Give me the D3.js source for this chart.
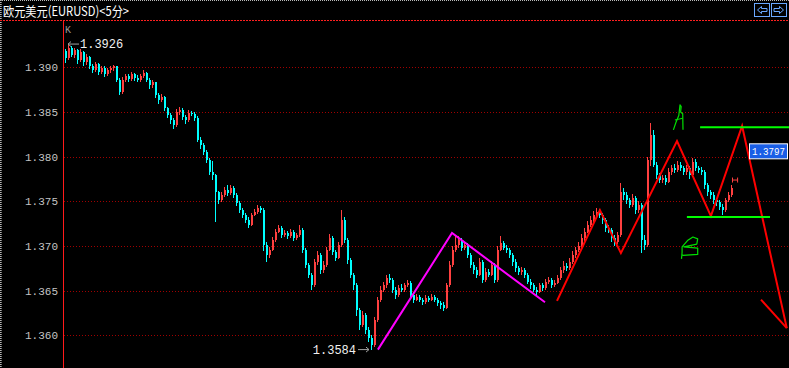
<!DOCTYPE html>
<html><head><meta charset="utf-8">
<script src="https://cdn.jsdelivr.net/npm/d3@7"></script>
<style>html,body{margin:0;padding:0;background:#000;overflow:hidden}</style>
</head><body>
<svg id="c" width="789" height="368"></svg>
<script>
// ---------- DATA (prices in pips above 1.3000, e.g. 926 = 1.3926) ----------
const title = "欧元美元(EURUSD)<5分>";
const yTicks = [1.360, 1.365, 1.370, 1.375, 1.380, 1.385, 1.390];
const firstOpen = 918;
const closes = [
910,922,914,919,908,917,906,912,901,897,
904,895,899,892,897,899,901,886,872,886,
890,887,892,888,886,890,894,886,880,883,
869,863,867,854,847,841,835,850,852,844,
841,849,848,843,819,813,805,796,783,779,
760,751,757,763,759,765,757,748,740,735,
729,724,735,738,743,740,701,690,696,707,
716,720,712,715,711,716,709,712,718,696,
679,668,656,682,690,673,679,696,709,693,
687,701,729,707,684,668,656,628,612,623,
606,597,589,617,640,651,656,664,662,651,
645,653,651,656,659,645,640,643,640,637,
642,640,643,640,636,634,631,656,679,696,
701,707,698,701,690,679,673,668,682,662,
671,668,679,662,696,703,698,696,690,682,
675,671,673,668,660,656,651,649,656,653,
660,662,656,659,664,673,678,675,682,690,
696,700,709,716,724,729,735,738,735,729,
720,718,709,704,712,760,757,751,746,754,
740,746,707,701,796,824,791,779,774,776,
772,783,787,785,791,787,783,787,779,794,
787,785,783,768,760,757,751,749,744,740,
751,757,765];
const highs = [
921,926,924,922,921,920,918,915,913,904,
906,905,902,901,899,902,903,902,888,889,
893,892,895,894,891,893,897,895,888,886,
884,871,870,868,856,849,843,853,856,854,
847,852,851,850,845,822,815,807,798,795,
781,762,760,766,768,768,767,759,750,743,
737,732,737,741,746,745,742,704,699,710,
719,724,722,718,717,719,718,715,723,720,
698,681,670,685,694,692,683,699,713,711,
696,705,740,732,709,686,670,659,631,627,
625,609,600,620,643,655,660,668,669,664,
654,656,657,659,662,661,647,646,645,642,
645,644,646,645,642,638,637,659,683,700,
712,711,709,705,703,692,682,676,686,684,
675,674,683,681,700,711,706,701,698,692,
685,678,676,675,670,663,658,654,659,658,
663,665,664,662,667,677,683,681,686,694,
699,704,713,720,728,733,739,743,741,737,
731,724,720,712,716,770,765,760,754,758,
756,750,748,712,800,838,830,794,782,780,
779,787,791,792,795,794,790,791,789,798,
797,790,788,785,770,763,760,754,752,747,
754,760,768];
const lows = [
905,908,911,910,904,906,902,903,898,894,
895,891,893,889,890,894,896,883,869,870,
884,884,885,885,883,884,888,883,876,877,
866,859,861,851,843,837,831,833,847,841,
837,839,845,840,816,809,802,793,779,774,
727,747,749,755,756,757,754,745,737,731,
726,720,722,733,736,737,694,682,687,694,
705,714,709,710,708,709,706,707,710,692,
675,664,651,654,679,669,670,677,694,690,
683,685,699,703,680,664,651,622,606,609,
601,592,584,587,615,637,648,653,658,647,
641,643,648,649,654,641,636,638,637,634,
635,637,638,637,633,630,627,629,654,676,
693,698,694,695,686,675,669,664,666,658,
660,665,666,658,660,694,695,692,686,678,
671,668,668,664,657,652,648,645,647,650,
651,657,653,654,657,662,670,672,673,680,
687,693,698,706,714,721,726,732,731,725,
716,714,705,700,702,710,752,747,742,744,
736,737,692,696,699,790,788,775,770,771,
768,770,780,782,783,784,779,780,775,777,
784,782,779,764,756,753,747,745,740,735,
738,749,755];
const highLabel = "1.3926", lowLabel = "1.3584", lastLabel = "1.3797";
const lastPrice = 797;
// annotations: [candle index, pips]
const magentaLine = [[104.3, 584], [129, 714.5], [160, 637]];
const redZigzag = [[164, 638.5], [178.3, 740.3], [185.3, 692], [204, 817.5], [215.3, 733.5], [225.7, 834.3], [240.6, 608]];
const redBarb = [[232, 640], [240.6, 608]];
const greenTop = [[211.7, 833], [242, 833]];
const greenBottom = [[207.3, 732.4], [235, 732.4]];
const handA = [[202.8, 830], [203.6, 838], [204.6, 846], [205, 858], [205.4, 856], [205.2, 850], [205.9, 848], [206, 830]];
const handAbar = [[203.3, 841], [205.9, 843]];
const handB = [[205.5, 685.5], [205.7, 693], [205.7, 699], [207.5, 706], [209.3, 710], [210.9, 708], [210.6, 702], [206.3, 699], [210.9, 697.5], [210.9, 690.5], [206, 689.5], [205.5, 690.5]];
const cursorMark = [[222.5, 773.8], [224.2, 773.8]];

// ---------- BUILD ----------
const P = p => 1.3 + p / 10000;
const candles = closes.map((c, i) => ({
  i, o: i === 0 ? firstOpen : closes[i - 1], c, h: highs[i], l: lows[i]
}));

const svg = d3.select("#c");
const W = 789, H = 368;
const x = d3.scaleLinear().domain([0, closes.length - 1]).range([65, 731]);
const y = d3.scaleLinear().domain([1.36, 1.39]).range([335.3, 67.3]);
const mono = "'Liberation Mono','DejaVu Sans Mono',monospace";

svg.append("rect").attr("width", W).attr("height", H).attr("fill", "#000");

// frame
svg.append("line").attr("x1", 0).attr("x2", W).attr("y1", 0.5).attr("y2", 0.5)
  .attr("stroke", "#b8b8b8").attr("stroke-dasharray", "1,1");
svg.append("line").attr("x1", 0.5).attr("x2", 0.5).attr("y1", 0).attr("y2", H)
  .attr("stroke", "#b8b8b8").attr("stroke-dasharray", "1,1");
svg.append("line").attr("x1", 1.5).attr("x2", 1.5).attr("y1", 0).attr("y2", H)
  .attr("stroke", "#7a7a7a").attr("stroke-dasharray", "1,1");

// title
svg.append("text").attr("x", 3).attr("y", 15.5).text(title)
  .attr("fill", "#ffffff").attr("font-size", 13)
  .attr("font-family", "'Noto Sans CJK SC','DejaVu Sans',sans-serif")
  .attr("textLength", 126).attr("lengthAdjust", "spacingAndGlyphs");

// title separator
svg.append("line").attr("x1", 0).attr("x2", W).attr("y1", 20.5).attr("y2", 20.5)
  .attr("stroke", "#ff2020").attr("stroke-dasharray", "2,1");

// buttons
const btn = svg.append("g").attr("fill", "none").attr("stroke", "#6aa8ff").attr("stroke-width", 1);
btn.append("rect").attr("x", 754.5).attr("y", 3.5).attr("width", 15).attr("height", 13);
btn.append("rect").attr("x", 771.5).attr("y", 3.5).attr("width", 15).attr("height", 13);
btn.append("path").attr("d", "M757.5,10 L761.5,6.5 L761.5,8.5 L767,8.5 L767,11.5 L761.5,11.5 L761.5,13.5 Z");
btn.append("path").attr("d", "M783.5,10 L779.5,6.5 L779.5,8.5 L774,8.5 L774,11.5 L779.5,11.5 L779.5,13.5 Z");

// grid
svg.append("g").selectAll("line").data(yTicks).join("line")
  .attr("x1", 64).attr("x2", W)
  .attr("y1", d => Math.round(y(d)) + 0.5).attr("y2", d => Math.round(y(d)) + 0.5)
  .attr("stroke", "#a00000").attr("stroke-dasharray", "1,2");

// y axis
const yAxis = svg.append("g").attr("transform", "translate(63,0)")
  .call(d3.axisLeft(y).tickValues(yTicks).tickFormat(d3.format(".3f")).tickSize(0).tickPadding(5));
yAxis.select(".domain").remove();
yAxis.selectAll("text").attr("fill", "#c4c4c4").attr("font-size", 11).attr("font-family", mono);
svg.append("line").attr("x1", 63.5).attr("x2", 63.5).attr("y1", 21).attr("y2", H)
  .attr("stroke", "#ff1a1a");

// "K"
svg.append("text").attr("x", 65).attr("y", 33).text("K")
  .attr("fill", "#9a9a9a").attr("font-size", 10).attr("font-family", mono);

// clip
svg.append("clipPath").attr("id", "plot").append("rect")
  .attr("x", 64).attr("y", 21).attr("width", W - 64).attr("height", H - 21);
const plot = svg.append("g").attr("clip-path", "url(#plot)");

// candles
const colorOf = d => d.c > d.o ? "#ff4040" : (d.c < d.o ? "#00ffff" : "#ffffff");
const cg = plot.append("g").attr("shape-rendering", "crispEdges");
cg.selectAll("line").data(candles).join("line")
  .attr("x1", d => Math.round(x(d.i)) + 0.5).attr("x2", d => Math.round(x(d.i)) + 0.5)
  .attr("y1", d => y(P(d.h))).attr("y2", d => y(P(d.l)))
  .attr("stroke", colorOf);
cg.selectAll("rect").data(candles).join("rect")
  .attr("x", d => Math.round(x(d.i)))
  .attr("width", 2)
  .attr("y", d => y(P(Math.max(d.o, d.c))))
  .attr("height", d => Math.max(1, y(P(Math.min(d.o, d.c))) - y(P(Math.max(d.o, d.c)))))
  .attr("fill", colorOf);

// annotations
const line = d3.line().x(d => x(d[0])).y(d => y(P(d[1])));
plot.append("path").attr("d", line(magentaLine)).attr("fill", "none")
  .attr("stroke", "#ff00ff").attr("stroke-width", 2);
plot.append("path").attr("d", line(redZigzag)).attr("fill", "none")
  .attr("stroke", "#ff0000").attr("stroke-width", 2).attr("stroke-linejoin", "miter");
plot.append("path").attr("d", line(redBarb)).attr("fill", "none")
  .attr("stroke", "#ff0000").attr("stroke-width", 2);
[greenTop, greenBottom].forEach(g => plot.append("path").attr("d", line(g)).attr("fill", "none")
  .attr("stroke", "#00ff00").attr("stroke-width", 2));
[handA, handAbar, handB].forEach(g => plot.append("path").attr("d", line(g)).attr("fill", "none")
  .attr("stroke", "#00e000").attr("stroke-width", 1.2).attr("stroke-linejoin", "round"));

// cursor mark near last candle
const cm = plot.append("g").attr("stroke", "#ff4040").attr("stroke-width", 1);
cm.append("path").attr("d", line(cursorMark));
cursorMark.forEach(p => cm.append("line")
  .attr("x1", x(p[0])).attr("x2", x(p[0])).attr("y1", y(P(p[1])) - 2.5).attr("y2", y(P(p[1])) + 2.5));

// high/low labels
const hiIdx = highs.indexOf(d3.max(highs)), loIdx = lows.indexOf(d3.min(lows));
const hy = y(P(highs[hiIdx])), ly = y(P(lows[loIdx]));
const ag = svg.append("g").attr("stroke", "#a0a0a0").attr("fill", "none");
ag.append("path").attr("d", `M${x(hiIdx) + 11},${hy} L${x(hiIdx)},${hy} M${x(hiIdx) + 3},${hy - 2.5} L${x(hiIdx)},${hy} L${x(hiIdx) + 3},${hy + 2.5}`);
svg.append("text").attr("x", x(hiIdx) + 12).attr("y", hy + 4).text(highLabel)
  .attr("fill", "#f0f0f0").attr("font-size", 12).attr("font-family", mono);
ag.append("path").attr("d", `M${x(loIdx) - 13},${ly} L${x(loIdx) - 2},${ly} M${x(loIdx) - 5},${ly - 2.5} L${x(loIdx) - 2},${ly} L${x(loIdx) - 5},${ly + 2.5}`);
svg.append("text").attr("x", x(loIdx) - 15).attr("y", ly + 4.5).attr("text-anchor", "end").text(lowLabel)
  .attr("fill", "#f0f0f0").attr("font-size", 12).attr("font-family", mono);

// last price box
const lpY = y(P(lastPrice));
svg.append("rect").attr("x", 749.5).attr("y", lpY - 15.5).attr("width", 38).attr("height", 15)
  .attr("fill", "#1a5ee6").attr("stroke", "#ffffff").attr("stroke-width", 1);
svg.append("text").attr("x", 752).attr("y", lpY - 4).text(lastLabel)
  .attr("fill", "#ffffff").attr("font-size", 10.5).attr("font-family", mono)
  .attr("textLength", 33).attr("lengthAdjust", "spacingAndGlyphs");
</script>
</body></html>
